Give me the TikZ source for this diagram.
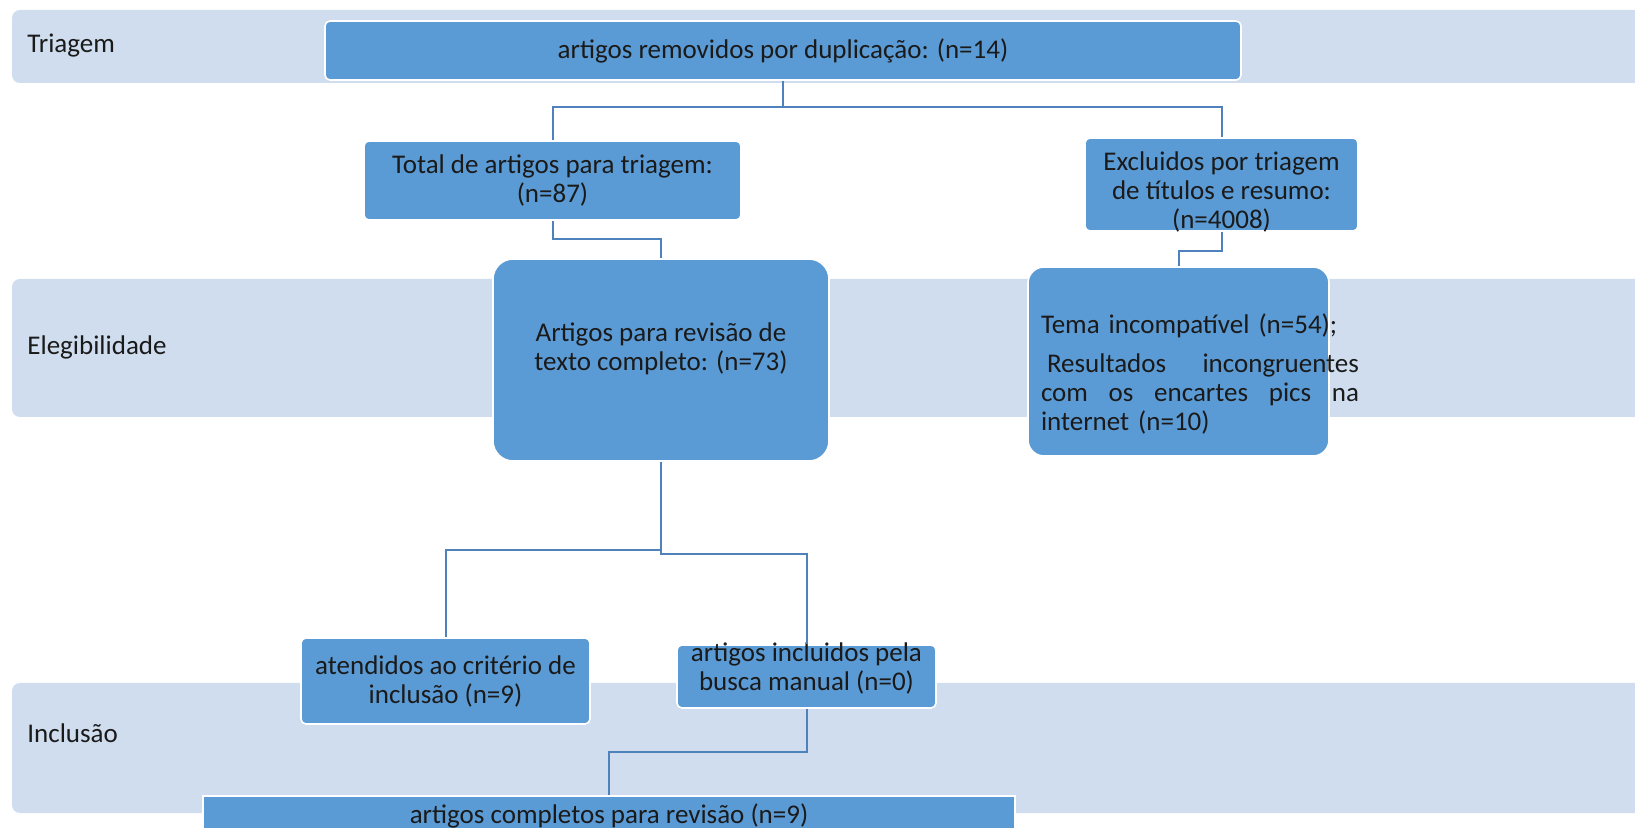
\documentclass[tikz,border=0pt]{standalone}
\usepackage{fontspec}
\setmainfont{Carlito}
\usepackage{xcolor}
\usepackage{tikz}
\usetikzlibrary{positioning,calc}

\definecolor{lanebg}{HTML}{CFDDEE}
\definecolor{boxfill}{HTML}{5B9BD5}
\definecolor{linkcol}{HTML}{4F81BD}
\definecolor{txtcol}{HTML}{1A1A1A}

\begin{document}
\begin{tikzpicture}[x=0.5pt, y=-0.5pt,
    box/.style={fill=boxfill, draw=white, line width=0.8pt, rounded corners=2.5pt, inner sep=0pt, align=center, text=txtcol, font=\fontsize{13.5}{14.5}\selectfont},
    txt/.style={inner sep=0pt, align=center, text=txtcol, font=\fontsize{13.5}{14.5}\selectfont},
    lane/.style={fill=lanebg, rounded corners=4pt},
    link/.style={draw=linkcol, line width=1pt}]
    \useasboundingbox (0,0) rectangle (1635,828);
    \clip (0,0) rectangle (1635,828);

    % faixas
    \fill[lane] (12,10) rectangle (1660,83);
    \fill[lane] (12,279) rectangle (1660,417);
    \fill[lane] (12,683) rectangle (1660,813);
    \node[txt, anchor=west] (l-tri) at (27,46) {Triagem};
    \node[txt, anchor=west] (l-ele) at (27,347) {Elegibilidade};
    \node[txt, anchor=west] (l-inc) at (27,733) {Inclusão};

    % caixas
    \node[box, minimum width=458pt, minimum height=29.5pt] (dup) at (783,50.5) {artigos removidos por duplicação: (n=14)};
    \node[box, minimum width=188.5pt, minimum height=39.5pt] (total) at (552.5,180.5) {Total de artigos para triagem:\\(n=87)};
    \node[box, minimum width=136.5pt, minimum height=46.5pt] (excl) at (1221.5,184.5) {};
    \node[txt] (excl-t) at (1221.5,192) {Excluidos por triagem\\de títulos e resumo:\\(n=4008)};
    \node[box, rounded corners=10pt, minimum width=168pt, minimum height=101pt] (rev) at (661,360) {};
    \node[txt] (rev-t) at (661,348.5) {Artigos para revisão de\\texto completo: (n=73)};
    \node[box, rounded corners=8pt, minimum width=150.5pt, minimum height=94.5pt] (tema) at (1178.5,361.5) {};
    \node[txt, text width=159pt, align=left] (tema-t) at (1200,374.5) {Tema incompatível (n=54);\\[5pt]
        \makebox[159pt][l]{\hspace{3pt}Resultados\hfill incongruentes}\\
        \makebox[159pt][l]{com\hfill os\hfill encartes\hfill pics\hfill na}\\
        internet (n=10)};
    \node[box, minimum width=144.5pt, minimum height=43pt] (atend) at (445.5,681) {atendidos ao critério de\\inclusão (n=9)};
    \node[box, minimum width=129.5pt, minimum height=31.5pt] (busca) at (806.5,676.5) {};
    \node[txt] (busca-t) at (806.5,668.5) {artigos incluidos pela\\busca manual (n=0)};
    \node[box, rounded corners=0pt, minimum width=406pt, minimum height=20pt] (comp) at (609,816) {artigos completos para revisão (n=9)};

    % ligacoes
    \coordinate (split) at (783,107);
    \draw[link] (dup.south) -- (split);
    \draw[link] (total.north) |- (split) -| (excl.north);
    \draw[link] (total.south) -- ++(0,18) -| (rev.north);
    \draw[link] (excl.south) -- ++(0,19) -| (tema.north);
    \draw[link] (rev.south) -- ++(0,88) -| (atend.north);
    \draw[link] (rev.south) -- ++(0,92) -| (busca.north);
    \draw[link] (busca.south) -- ++(0,43) -| (comp.north);
\end{tikzpicture}
\end{document}
